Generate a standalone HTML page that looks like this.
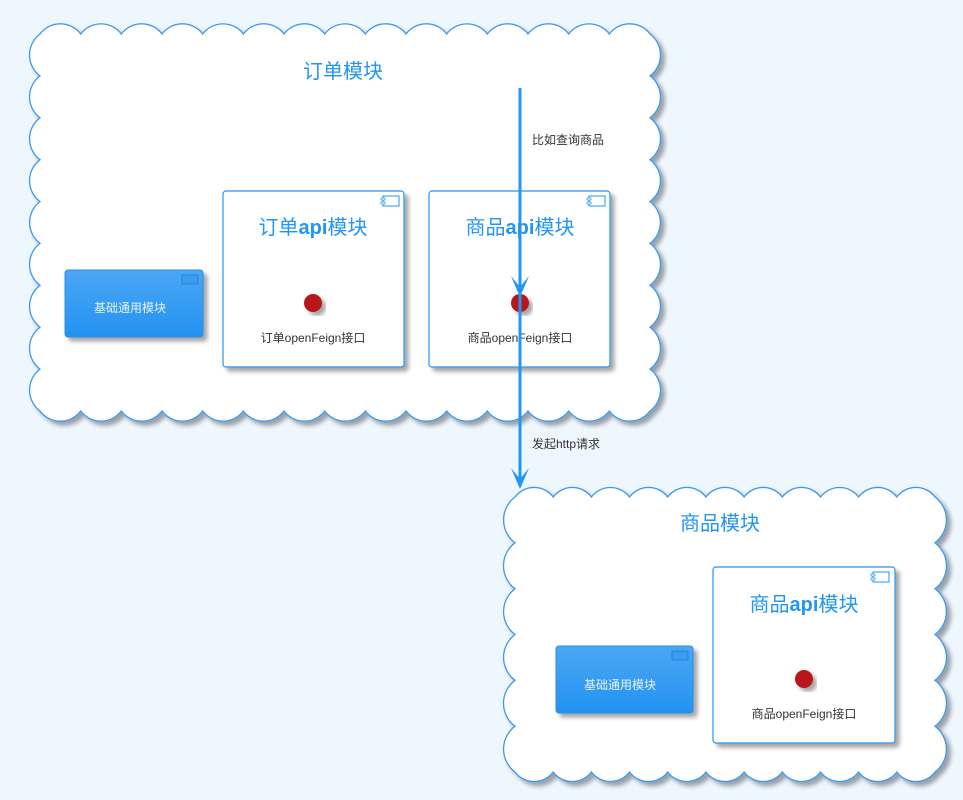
<!DOCTYPE html>
<html><head><meta charset="utf-8"><style>
body{margin:0;background:#eef6fe;}
svg{display:block}
text{font-family:"Liberation Sans","Noto Sans CJK SC",sans-serif}
</style></head><body>
<svg id="s" width="963" height="800" viewBox="0 0 963 800" xmlns="http://www.w3.org/2000/svg">
<defs>
<filter id="sh" x="-10%" y="-10%" width="130%" height="130%"><feDropShadow dx="4" dy="4" stdDeviation="2" flood-color="#000" flood-opacity="0.35"/></filter>
<linearGradient id="bg" x1="0" y1="0" x2="0" y2="1"><stop offset="0" stop-color="#4ba7f4"/><stop offset="1" stop-color="#2292f2"/></linearGradient>
</defs>
<rect width="963" height="800" fill="#eef6fe"/>
<path id="c1" d="" fill="#fff" stroke="#3a99ee" stroke-width="1.3" filter="url(#sh)"/>
<path id="c2" d="" fill="#fff" stroke="#3a99ee" stroke-width="1.3" filter="url(#sh)"/>

<text x="343" y="78" font-size="20" fill="#2196f3" text-anchor="middle">订单模块</text>
<rect x="65" y="270" width="138" height="67" rx="3" fill="url(#bg)" stroke="#2a8fe8" filter="url(#sh)"/>
<rect x="182" y="275" width="16" height="9" fill="#3a9bf0" stroke="#1c7fd8" stroke-width="0.8"/>
<text x="130" y="312" font-size="12" fill="#e8f3ff" text-anchor="middle">基础通用模块</text>
<rect x="223" y="191" width="181" height="176" rx="3" fill="#fff" stroke="#2196f3" stroke-width="1.2" filter="url(#sh)"/>
<rect x="383" y="196" width="16" height="10" fill="none" stroke="#2196f3"/><rect x="381" y="198" width="4" height="2" fill="#fff" stroke="#2196f3" stroke-width="0.7"/><rect x="381" y="202" width="4" height="2" fill="#fff" stroke="#2196f3" stroke-width="0.7"/>
<text x="313" y="234" font-size="20" fill="#2196f3" text-anchor="middle">订单<tspan font-weight="bold">api</tspan>模块</text>
<circle cx="313" cy="303" r="9" fill="#b8141c" filter="url(#sh)"/>
<text x="313" y="342" font-size="12" fill="#333" text-anchor="middle">订单openFeign接口</text>
<rect x="429" y="191" width="181" height="176" rx="3" fill="#fff" stroke="#2196f3" stroke-width="1.2" filter="url(#sh)"/>
<rect x="589" y="196" width="16" height="10" fill="none" stroke="#2196f3"/><rect x="587" y="198" width="4" height="2" fill="#fff" stroke="#2196f3" stroke-width="0.7"/><rect x="587" y="202" width="4" height="2" fill="#fff" stroke="#2196f3" stroke-width="0.7"/>
<text x="520" y="234" font-size="20" fill="#2196f3" text-anchor="middle">商品<tspan font-weight="bold">api</tspan>模块</text>
<circle cx="520" cy="303" r="9" fill="#b8141c" filter="url(#sh)"/>
<text x="520" y="342" font-size="12" fill="#333" text-anchor="middle">商品openFeign接口</text>

<text x="720" y="530" font-size="20" fill="#2196f3" text-anchor="middle">商品模块</text>
<rect x="556" y="646" width="137" height="67" rx="3" fill="url(#bg)" stroke="#2a8fe8" filter="url(#sh)"/>
<rect x="672" y="651" width="16" height="9" fill="#3a9bf0" stroke="#1c7fd8" stroke-width="0.8"/>
<text x="620" y="689" font-size="12" fill="#e8f3ff" text-anchor="middle">基础通用模块</text>
<rect x="713" y="567" width="182" height="176" rx="3" fill="#fff" stroke="#2196f3" stroke-width="1.2" filter="url(#sh)"/>
<rect x="873" y="572" width="16" height="10" fill="none" stroke="#2196f3"/><rect x="871" y="574" width="4" height="2" fill="#fff" stroke="#2196f3" stroke-width="0.7"/><rect x="871" y="578" width="4" height="2" fill="#fff" stroke="#2196f3" stroke-width="0.7"/>
<text x="804" y="611" font-size="20" fill="#2196f3" text-anchor="middle">商品<tspan font-weight="bold">api</tspan>模块</text>
<circle cx="804" cy="679" r="9" fill="#b8141c" filter="url(#sh)"/>
<text x="804" y="718" font-size="12" fill="#333" text-anchor="middle">商品openFeign接口</text>

<line x1="520" y1="88" x2="520" y2="486" stroke="#2196f3" stroke-width="3"/>
<path d="M511 276 L520 297 L529 276 L520 287 Z" fill="#2196f3"/>
<path d="M511 468 L520 489 L529 468 L520 479 Z" fill="#2196f3"/>
<text x="532" y="144" font-size="12" fill="#333">比如查询商品</text>
<text x="532" y="448" font-size="12" fill="#333">发起http请求</text>
</svg>
<script>
function cloud(x0,y0,x1,y1,bw,bh){
  var d="M"+x0+" "+y0, pts=[];
  var nx=Math.max(1,Math.round((x1-x0)/bw)), ny=Math.max(1,Math.round((y1-y0)/bh));
  var i,sx=(x1-x0)/nx, sy=(y1-y0)/ny;
  for(i=1;i<=nx;i++)pts.push([x0+sx*i,y0,sx]);
  for(i=1;i<=ny;i++)pts.push([x1,y0+sy*i,sy]);
  for(i=1;i<=nx;i++)pts.push([x1-sx*i,y1,sx]);
  for(i=1;i<=ny;i++)pts.push([x0,y1-sy*i,sy]);
  pts.forEach(function(p){var r=(p[2]/2)*1.25;d+=" A"+r+" "+r+" 0 0 1 "+p[0].toFixed(1)+" "+p[1].toFixed(1);});
  return d+" Z";
}
document.getElementById("c1").setAttribute("d",cloud(40,34,650,411,40,44));
document.getElementById("c2").setAttribute("d",cloud(515,497,935,772,40,44));
</script>
</body></html>
